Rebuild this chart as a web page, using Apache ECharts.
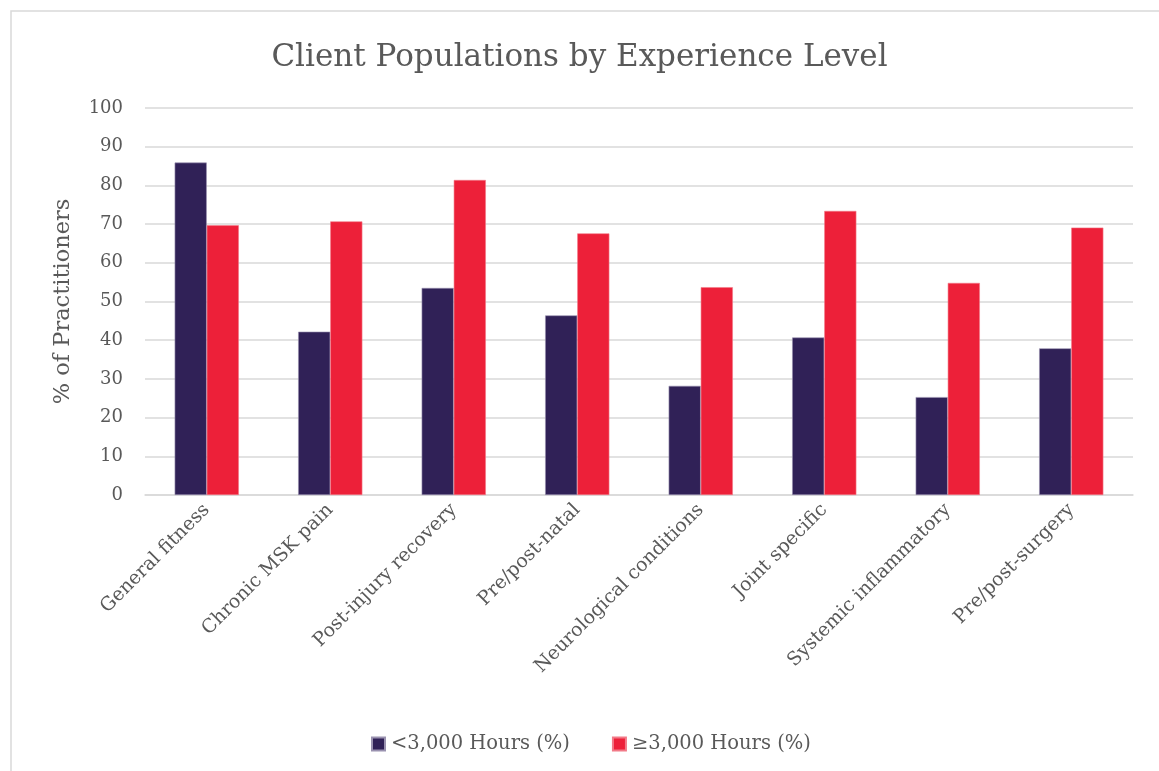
<!DOCTYPE html>
<html><head><meta charset="utf-8">
<script src="https://cdn.jsdelivr.net/npm/echarts@6/dist/echarts.min.js"></script>
<style>html,body{margin:0;padding:0;background:#fff}#c{width:1159px;height:771px}</style>
</head><body><div id="c"></div>
<script>
const categories = ["General fitness","Chronic MSK pain","Post-injury recovery","Pre/post-natal","Neurological conditions","Joint specific","Systemic inflammatory","Pre/post-surgery"];
const seriesNames = ["<3,000 Hours (%)","\u22653,000 Hours (%)"];
const lowHours = [85.9, 42.2, 53.5, 46.4, 28.2, 40.7, 25.3, 37.9];
const highHours = [69.7, 70.7, 81.4, 67.6, 53.7, 73.4, 54.8, 69.1];
const yTicks = [0,10,20,30,40,50,60,70,80,90,100];

const FONT = "DejaVu Serif";
const chart = echarts.init(document.getElementById('c'), null, {renderer:'canvas'});
chart.setOption({
  animation:false,
  textStyle:{fontFamily:FONT},
  graphic:[{type:'rect',shape:{x:11,y:11,width:1200,height:800},style:{fill:'none',stroke:'#d9d9d9',lineWidth:1.5},silent:true}],
  title:{text:'Client Populations by Experience Level',left:'center',top:37,
    textStyle:{fontFamily:FONT,fontSize:31,fontWeight:'normal',color:'#595959'}},
  legend:{bottom:12,left:366,itemWidth:13,itemHeight:13,itemGap:42,icon:'rect',
    textStyle:{fontFamily:FONT,fontSize:19.5,color:'#595959',padding:[0,0,0,1]},data:seriesNames},
  grid:{left:145,right:26,top:108,bottom:276,containLabel:false},
  xAxis:{type:'category',data:categories,
    axisLine:{lineStyle:{color:'#d9d9d9',width:1.5}},axisTick:{show:false},
    axisLabel:{rotate:45,interval:0,margin:12,fontFamily:FONT,fontSize:19,color:'#595959'}},
  yAxis:{type:'value',min:yTicks[0],max:yTicks[yTicks.length-1],interval:10,
    name:'% of Practitioners',nameLocation:'middle',nameGap:70,nameRotate:90,
    nameTextStyle:{fontFamily:FONT,fontSize:22.5,color:'#595959'},
    axisLine:{show:false},axisTick:{show:false},
    splitLine:{lineStyle:{color:'#d9d9d9',width:1.5}},
    axisLabel:{margin:22,fontFamily:FONT,fontSize:18,color:'#595959'}},
  series:[
    {name:seriesNames[0],type:'bar',data:lowHours,barGap:'0%',barCategoryGap:'48%',
      itemStyle:{color:'#302157',borderColor:'#9a92b0',borderWidth:0.6}},
    {name:seriesNames[1],type:'bar',data:highHours,barGap:'0%',barCategoryGap:'48%',
      itemStyle:{color:'#ED2039',borderColor:'#f27a88',borderWidth:0.6}}
  ]
});
</script></body></html>
